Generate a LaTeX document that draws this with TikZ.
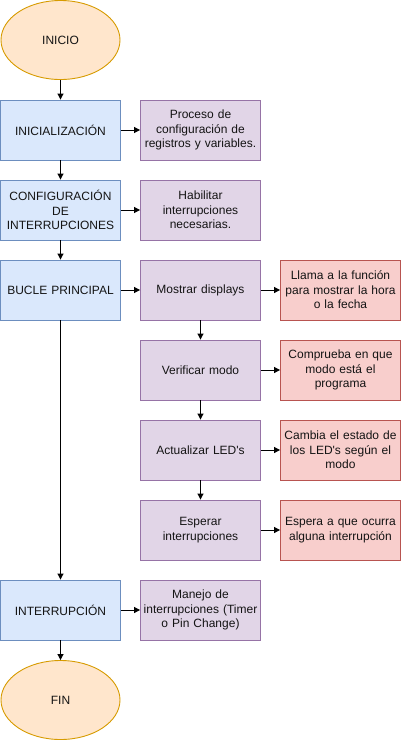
\documentclass[tikz,border=0pt]{standalone}
\usepackage{fontspec}
\setmainfont{Liberation Sans}
\usetikzlibrary{arrows.meta,shapes.geometric}
\definecolor{bfill}{HTML}{DAE8FC}\definecolor{bdraw}{HTML}{6C8EBF}
\definecolor{pfill}{HTML}{E1D5E7}\definecolor{pdraw}{HTML}{9673A6}
\definecolor{rfill}{HTML}{F8CECC}\definecolor{rdraw}{HTML}{B85450}
\definecolor{ofill}{HTML}{FFE6CC}\definecolor{odraw}{HTML}{D79B00}
\definecolor{txt}{HTML}{141414}
\tikzset{
 base/.style={line width=0.9pt, minimum width=120pt, minimum height=60pt, inner sep=1pt, align=center, text width=118pt, font=\fontsize{12}{14.5}\selectfont, text=txt},
 bluebox/.style={base, draw=bdraw, fill=bfill, rectangle},
 purplebox/.style={base, draw=pdraw, fill=pfill, rectangle},
 redbox/.style={base, draw=rdraw, fill=rfill, rectangle},
 term/.style={base, ellipse, draw=odraw, fill=ofill, minimum width=119pt, minimum height=79pt, text width=60pt},
 conn/.style={line width=1pt, -{Triangle[length=6pt,width=6pt]}},
}
\begin{document}
\begin{tikzpicture}[x=1pt,y=-1pt]
\useasboundingbox (0,0) rectangle (402,742);
\node[term] (inicio) at (60.5,40) {INICIO};
\node[bluebox] (ini) at (60.5,130) {INICIALIZACIÓN};
\node[bluebox] (conf) at (60.5,210) {CONFIGURACIÓN\\DE\\INTERRUPCIONES};
\node[bluebox] (bucle) at (60.5,290) {BUCLE PRINCIPAL};
\node[bluebox] (intr) at (60.5,610) {INTERRUPCIÓN};
\node[term] (fin) at (60.5,700) {FIN};
\node[purplebox] (proc) at (200.5,130) {Proceso de\\configuración de\\registros y variables.};
\node[purplebox] (hab) at (200.5,210) {Habilitar\\interrupciones\\necesarias.};
\node[purplebox] (most) at (200.5,290) {Mostrar displays};
\node[purplebox] (ver) at (200.5,370) {Verificar modo};
\node[purplebox] (act) at (200.5,450) {Actualizar LED\textquotesingle s};
\node[purplebox] (esp) at (200.5,530) {Esperar\\interrupciones};
\node[purplebox] (man) at (200.5,610) {Manejo de\\interrupciones (Timer\\o Pin Change)};
\node[redbox] (r1) at (340.5,290) {Llama a la función\\para mostrar la hora\\o la fecha};
\node[redbox] (r2) at (340.5,370) {Comprueba en que\\modo está el\\programa};
\node[redbox] (r3) at (340.5,450) {Cambia el estado de\\los LED\textquotesingle s según el\\modo};
\node[redbox] (r4) at (340.5,530) {Espera a que ocurra\\alguna interrupción};
\draw[conn] (inicio) -- (ini);
\draw[conn] (ini) -- (conf);
\draw[conn] (conf) -- (bucle);
\draw[conn] (bucle) -- (intr);
\draw[conn] (intr) -- (fin);
\draw[conn] (ini) -- (proc);
\draw[conn] (conf) -- (hab);
\draw[conn] (bucle) -- (most);
\draw[conn] (intr) -- (man);
\draw[conn] (most) -- (ver);
\draw[conn] (ver) -- (act);
\draw[conn] (act) -- (esp);
\draw[conn] (most) -- (r1);
\draw[conn] (ver) -- (r2);
\draw[conn] (act) -- (r3);
\draw[conn] (esp) -- (r4);
\end{tikzpicture}
\end{document}
